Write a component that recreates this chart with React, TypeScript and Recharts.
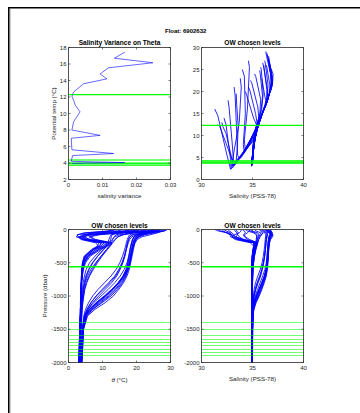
import React from 'react';
import { LineChart, Line, XAxis, YAxis, ReferenceLine } from 'recharts';

// ---------- data ----------
const PRESSURES = [0, 20, 50, 80, 110, 150, 200, 250, 300, 400, 500, 600, 700, 800, 900, 1000, 1100, 1200, 1300, 1500, 2000];

const THETA_PROFILES: number[][] = [
  [28.8, 28.4, 24.0, 21.5, 20.4, 19.8, 19.5, 19.3, 19.1, 18.7, 18.3, 17.9, 17.2, 16.2, 14.8, 13.2, 10.8, 7.8, 5.6, 4.4, 4.0],
  [27.5, 27.2, 22.5, 20.6, 19.9, 19.4, 19.1, 18.9, 18.7, 18.4, 18.0, 17.5, 16.6, 15.3, 13.7, 11.7, 9.2, 6.8, 5.1, 4.3, 3.8],
  [26.3, 26.0, 23.2, 21.4, 20.2, 19.5, 19.0, 18.7, 18.5, 18.1, 17.7, 17.1, 16.1, 14.6, 12.7, 10.5, 8.1, 6.1, 4.9, 4.2, 3.7],
  [29.1, 28.3, 25.5, 22.4, 20.8, 19.9, 19.4, 19.1, 18.9, 18.5, 18.1, 17.6, 16.9, 15.9, 14.4, 12.5, 9.9, 7.1, 5.3, 4.4, 3.9],
  [25.0, 24.8, 22.8, 20.5, 19.4, 18.9, 18.6, 18.3, 18.1, 17.7, 17.2, 16.4, 15.2, 13.6, 11.7, 9.6, 7.4, 5.7, 4.7, 4.1, 3.6],
  [28.3, 27.9, 26.2, 24.0, 21.6, 20.2, 19.6, 19.2, 18.9, 18.4, 18.0, 17.4, 16.4, 14.9, 13.0, 10.9, 8.5, 6.3, 4.9, 4.3, 3.8],
  [27.0, 26.8, 24.5, 22.0, 20.5, 19.7, 19.3, 19.0, 18.8, 18.4, 18.0, 17.5, 16.8, 15.6, 14.0, 12.0, 9.6, 7.2, 5.4, 4.4, 3.9],
  [26.0, 25.6, 21.5, 19.8, 19.2, 18.8, 18.5, 18.3, 18.1, 17.8, 17.4, 16.9, 16.0, 14.6, 12.9, 10.8, 8.4, 6.3, 4.9, 4.2, 3.7],
  [28.0, 27.5, 23.8, 21.0, 19.9, 19.3, 19.0, 18.8, 18.6, 18.3, 17.9, 17.3, 16.3, 14.8, 12.9, 10.7, 8.3, 6.1, 4.8, 4.2, 3.7],
  [24.5, 24.2, 21.8, 20.0, 19.3, 18.9, 18.6, 18.4, 18.2, 17.9, 17.5, 17.0, 16.2, 14.9, 13.2, 11.2, 8.8, 6.6, 5.0, 4.3, 3.8],
  [27.0, 26.5, 21.5, 19.0, 18.0, 17.6, 17.3, 17.1, 16.9, 16.4, 15.7, 14.8, 13.6, 11.8, 9.9, 8.1, 6.6, 5.5, 4.8, 4.2, 3.7],
  [25.5, 25.0, 19.5, 16.0, 14.5, 13.6, 12.8, 12.0, 11.2, 9.6, 8.2, 7.0, 6.0, 5.2, 4.7, 4.4, 4.2, 4.0, 3.9, 3.7, 3.4],
  [24.0, 23.4, 18.2, 15.0, 13.6, 12.8, 12.0, 11.2, 10.3, 8.6, 7.2, 6.1, 5.3, 4.8, 4.4, 4.2, 4.0, 3.9, 3.8, 3.6, 3.4],
  [26.5, 26.0, 22.4, 20.0, 18.6, 18.0, 17.6, 17.3, 17.0, 16.5, 15.9, 15.0, 13.9, 12.2, 10.2, 8.2, 6.6, 5.4, 4.7, 4.2, 3.7],
  [22.5, 22.0, 16.5, 14.0, 13.4, 13.0, 12.6, 12.0, 11.2, 9.6, 8.0, 6.6, 5.6, 4.9, 4.5, 4.2, 4.0, 3.9, 3.8, 3.6, 3.4],
  [23.0, 22.4, 19.0, 18.0, 17.6, 17.3, 17.0, 16.8, 16.5, 15.9, 15.1, 14.0, 12.5, 10.6, 8.7, 7.1, 5.9, 5.0, 4.5, 4.0, 3.6],
  [26.0, 25.2, 20.5, 18.6, 18.0, 17.7, 17.4, 17.2, 17.0, 16.6, 16.0, 15.2, 14.2, 12.7, 10.8, 8.9, 7.1, 5.8, 4.9, 4.3, 3.8],
  [21.0, 20.2, 15.0, 12.8, 12.6, 12.4, 12.0, 11.3, 10.4, 8.6, 7.0, 5.9, 5.1, 4.6, 4.3, 4.1, 3.9, 3.8, 3.7, 3.5, 3.3],
  [24.8, 24.0, 19.0, 16.0, 14.6, 13.8, 13.0, 12.3, 11.5, 9.9, 8.5, 7.3, 6.2, 5.4, 4.8, 4.5, 4.2, 4.0, 3.9, 3.7, 3.5],
  [20.0, 19.0, 14.0, 12.5, 12.2, 11.9, 11.5, 10.8, 9.8, 7.8, 6.2, 5.2, 4.7, 4.3, 4.1, 3.9, 3.8, 3.7, 3.6, 3.4, 3.2],
  [14.0, 12.5, 4.5, 2.5, 2.8, 5.0, 10.5, 9.5, 7.5, 5.0, 4.2, 4.0, 3.9, 3.8, 3.7, 3.6, 3.6, 3.5, 3.5, 3.3, 3.1],
  [18.0, 16.5, 8.5, 3.8, 3.5, 5.5, 11.0, 10.0, 8.0, 5.5, 4.5, 4.1, 3.9, 3.8, 3.7, 3.7, 3.6, 3.6, 3.5, 3.3, 3.1],
  [12.5, 12.0, 7.0, 4.5, 4.0, 6.5, 12.0, 10.8, 8.8, 5.8, 4.6, 4.2, 4.0, 3.8, 3.7, 3.7, 3.6, 3.6, 3.5, 3.4, 3.2],
  [21.0, 19.0, 10.5, 5.5, 4.8, 6.0, 11.5, 10.2, 8.2, 5.6, 4.6, 4.2, 4.0, 3.8, 3.7, 3.7, 3.6, 3.6, 3.5, 3.4, 3.2],
  [25.0, 23.5, 15.0, 8.0, 6.0, 7.5, 12.5, 11.0, 9.0, 6.0, 4.8, 4.3, 4.0, 3.9, 3.8, 3.7, 3.7, 3.6, 3.5, 3.4, 3.2],
  [16.0, 14.5, 5.5, 2.8, 2.3, 4.5, 10.0, 9.0, 7.0, 4.8, 4.1, 3.9, 3.8, 3.7, 3.7, 3.6, 3.6, 3.5, 3.5, 3.3, 3.0],
  [27.0, 25.5, 16.0, 9.0, 6.5, 8.0, 12.8, 11.5, 9.5, 6.4, 5.0, 4.4, 4.1, 3.9, 3.8, 3.7, 3.7, 3.6, 3.5, 3.4, 3.2],
  [13.0, 12.0, 10.5, 5.0, 3.2, 4.2, 9.0, 8.5, 6.8, 4.6, 4.1, 3.9, 3.8, 3.7, 3.6, 3.6, 3.5, 3.5, 3.4, 3.3, 3.0],
  [19.5, 17.0, 12.0, 7.0, 4.2, 5.0, 9.5, 9.2, 7.4, 5.2, 4.3, 4.0, 3.9, 3.8, 3.7, 3.6, 3.6, 3.5, 3.5, 3.4, 3.1],
  [23.0, 21.0, 13.0, 6.5, 3.0, 3.6, 8.0, 8.8, 7.2, 5.0, 4.2, 4.0, 3.9, 3.8, 3.7, 3.6, 3.6, 3.5, 3.5, 3.4, 3.1],
];

const SALINITY_PROFILES: number[][] = [
  [36.40, 36.45, 36.78, 36.85, 36.75, 36.68, 36.64, 36.62, 36.60, 36.56, 36.52, 36.46, 36.35, 36.16, 35.92, 35.66, 35.36, 35.14, 35.05, 35.02, 35.00],
  [36.55, 36.58, 36.86, 36.78, 36.70, 36.64, 36.60, 36.58, 36.56, 36.52, 36.47, 36.40, 36.24, 36.02, 35.77, 35.50, 35.24, 35.10, 35.04, 35.01, 34.98],
  [36.70, 36.72, 36.96, 36.92, 36.78, 36.66, 36.60, 36.56, 36.54, 36.50, 36.45, 36.35, 36.17, 35.90, 35.62, 35.36, 35.17, 35.07, 35.03, 35.00, 34.97],
  [36.30, 36.36, 36.62, 36.97, 36.86, 36.72, 36.64, 36.60, 36.58, 36.54, 36.49, 36.43, 36.30, 36.10, 35.87, 35.60, 35.31, 35.12, 35.04, 35.01, 34.98],
  [36.80, 36.82, 36.92, 36.74, 36.64, 36.58, 36.54, 36.50, 36.47, 36.42, 36.35, 36.22, 36.00, 35.75, 35.50, 35.27, 35.11, 35.05, 35.01, 34.99, 34.97],
  [36.45, 36.50, 36.64, 37.02, 36.96, 36.78, 36.68, 36.62, 36.58, 36.52, 36.46, 36.38, 36.22, 35.95, 35.67, 35.40, 35.19, 35.08, 35.03, 35.00, 34.97],
  [36.62, 36.65, 36.80, 36.90, 36.80, 36.70, 36.63, 36.59, 36.56, 36.52, 36.47, 36.40, 36.28, 36.06, 35.82, 35.54, 35.28, 35.12, 35.05, 35.01, 34.98],
  [36.35, 36.40, 36.70, 36.66, 36.60, 36.55, 36.52, 36.50, 36.48, 36.44, 36.39, 36.31, 36.15, 35.92, 35.66, 35.38, 35.18, 35.08, 35.03, 35.00, 34.97],
  [36.58, 36.62, 36.84, 36.80, 36.70, 36.63, 36.58, 36.56, 36.54, 36.50, 36.45, 36.36, 36.19, 35.93, 35.66, 35.38, 35.17, 35.07, 35.02, 35.00, 34.97],
  [36.75, 36.78, 36.88, 36.72, 36.64, 36.58, 36.54, 36.52, 36.50, 36.46, 36.41, 36.33, 36.18, 35.95, 35.70, 35.44, 35.21, 35.09, 35.03, 35.00, 34.97],
  [36.20, 36.25, 36.52, 36.45, 36.38, 36.34, 36.30, 36.28, 36.25, 36.17, 36.05, 35.90, 35.70, 35.45, 35.26, 35.13, 35.06, 35.03, 35.01, 34.99, 34.97],
  [35.80, 35.86, 36.05, 35.90, 35.74, 35.62, 35.52, 35.42, 35.32, 35.18, 35.10, 35.05, 35.02, 35.00, 34.99, 34.98, 34.98, 34.97, 34.97, 34.96, 34.95],
  [35.20, 35.32, 35.80, 35.72, 35.60, 35.50, 35.40, 35.32, 35.24, 35.12, 35.06, 35.02, 35.00, 34.99, 34.98, 34.97, 34.97, 34.96, 34.96, 34.96, 34.95],
  [36.00, 36.06, 36.32, 36.50, 36.44, 36.38, 36.34, 36.31, 36.27, 36.19, 36.08, 35.94, 35.75, 35.50, 35.29, 35.14, 35.06, 35.02, 35.00, 34.99, 34.97],
  [34.80, 34.92, 35.52, 35.62, 35.54, 35.48, 35.42, 35.36, 35.30, 35.18, 35.10, 35.05, 35.02, 35.00, 34.99, 34.98, 34.97, 34.97, 34.96, 34.96, 34.95],
  [35.90, 35.96, 36.20, 36.30, 36.28, 36.25, 36.22, 36.19, 36.15, 36.06, 35.94, 35.76, 35.52, 35.30, 35.16, 35.08, 35.04, 35.01, 35.00, 34.98, 34.96],
  [36.10, 36.15, 36.40, 36.40, 36.36, 36.33, 36.30, 36.28, 36.26, 36.20, 36.10, 35.97, 35.80, 35.56, 35.33, 35.18, 35.08, 35.04, 35.01, 34.99, 34.97],
  [34.60, 34.75, 35.30, 35.45, 35.44, 35.40, 35.36, 35.28, 35.21, 35.11, 35.05, 35.02, 35.00, 34.99, 34.98, 34.97, 34.97, 34.96, 34.96, 34.95, 34.94],
  [35.70, 35.76, 35.98, 35.85, 35.70, 35.60, 35.50, 35.42, 35.34, 35.20, 35.11, 35.06, 35.03, 35.01, 35.00, 34.99, 34.98, 34.97, 34.97, 34.96, 34.95],
  [34.30, 34.45, 35.10, 35.38, 35.40, 35.36, 35.32, 35.24, 35.16, 35.07, 35.02, 35.00, 34.99, 34.98, 34.97, 34.96, 34.96, 34.95, 34.95, 34.94, 34.93],
  [32.20, 32.40, 32.85, 32.90, 33.10, 33.80, 35.25, 35.20, 35.10, 34.98, 34.95, 34.94, 34.94, 34.93, 34.93, 34.93, 34.93, 34.92, 34.92, 34.92, 34.91],
  [32.60, 32.70, 33.00, 33.15, 33.35, 33.90, 35.30, 35.26, 35.14, 35.00, 34.96, 34.95, 34.94, 34.94, 34.93, 34.93, 34.93, 34.92, 34.92, 34.92, 34.91],
  [31.60, 31.80, 32.60, 33.00, 33.30, 34.20, 35.45, 35.32, 35.18, 35.02, 34.97, 34.95, 34.94, 34.94, 34.93, 34.93, 34.93, 34.92, 34.92, 34.92, 34.91],
  [33.20, 33.30, 33.45, 33.55, 33.70, 34.10, 35.38, 35.28, 35.16, 35.01, 34.97, 34.95, 34.94, 34.94, 34.93, 34.93, 34.93, 34.92, 34.92, 34.92, 34.91],
  [34.00, 34.20, 34.30, 34.10, 34.20, 34.50, 35.48, 35.34, 35.20, 35.03, 34.98, 34.96, 34.95, 34.94, 34.94, 34.93, 34.93, 34.93, 34.92, 34.92, 34.91],
  [31.30, 31.60, 32.50, 32.80, 32.85, 33.60, 35.20, 35.14, 35.06, 34.97, 34.95, 34.94, 34.93, 34.93, 34.93, 34.93, 34.92, 34.92, 34.92, 34.91, 34.91],
  [34.60, 34.70, 34.50, 34.20, 34.30, 34.70, 35.52, 35.38, 35.24, 35.05, 34.99, 34.96, 34.95, 34.94, 34.94, 34.93, 34.93, 34.93, 34.92, 34.92, 34.91],
  [32.00, 32.10, 32.40, 32.95, 33.05, 33.50, 35.10, 35.10, 35.04, 34.96, 34.94, 34.94, 34.93, 34.93, 34.93, 34.92, 34.92, 34.92, 34.92, 34.91, 34.91],
  [33.40, 33.45, 33.60, 33.50, 33.40, 33.90, 35.15, 35.16, 35.08, 34.99, 34.95, 34.94, 34.94, 34.93, 34.93, 34.93, 34.92, 34.92, 34.92, 34.91, 34.91],
  [33.80, 33.90, 33.70, 33.20, 32.95, 33.30, 34.80, 35.12, 35.06, 34.98, 34.95, 34.94, 34.93, 34.93, 34.93, 34.92, 34.92, 34.92, 34.92, 34.91, 34.91],
];

const VAR_THETA = [17.44, 16.7, 16.15, 15.54, 14.8, 14.2, 13.6, 12.6, 12.1, 11.6, 11.0, 10.2, 9.0, 8.0, 7.35, 7.0, 5.6, 5.15, 4.9, 4.2, 4.05, 4.0, 3.95];
const VAR_VALUES = [0.0166, 0.0135, 0.0248, 0.0118, 0.0093, 0.0113, 0.0044, 0.0015, 0.001, 0.0015, 0.002, 0.0034, 0.0015, 0.001, 0.0093, 0.0008, 0.001, 0.0133, 0.0012, 0.0008, 0.0165, 0.005, 0.001];

const CHOSEN_PRESSURES = [560, 1400, 1500, 1600, 1650, 1700, 1750, 1800, 1850, 1900];
const CHOSEN_THETAS = [12.28, 4.4, 4.25, 4.1, 4.0, 3.95, 3.88, 3.8, 3.72, 3.65];

const VAR_X_TICKS = [0, 0.01, 0.02, 0.03];
const VAR_Y_TICKS = [2, 4, 6, 8, 10, 12, 14, 16, 18];
const SAL_TICKS = [30, 35, 40];
const TS_Y_TICKS = [0, 5, 10, 15, 20, 25, 30];
const THETA_X_TICKS = [0, 10, 20, 30];
const PRES_TICKS = [-2000, -1500, -1000, -500, 0];

// ---------- styling ----------
const FONT = '"Liberation Sans", Arial, Helvetica, sans-serif';
const AX = '#262626';
const BLUE = '#0000ff';
const GREEN = '#00ff00';

type Box = { x0: number; y0: number; x1: number; y1: number };

const TL: Box = { x0: 68.5, y0: 47.5, x1: 170.5, y1: 179.5 };
const TR: Box = { x0: 201.5, y0: 47.5, x1: 303.5, y1: 179.5 };
const BL: Box = { x0: 68.5, y0: 229.5, x1: 170.5, y1: 362.5 };
const BR: Box = { x0: 201.5, y0: 229.5, x1: 303.5, y1: 362.5 };

const empty = () => <g />;

function Panel(props: {
  box: Box;
  xDomain: [number, number];
  xTicks: number[];
  yDomain: [number, number];
  yTicks: number[];
  children: React.ReactNode;
}) {
  const { box, xDomain, xTicks, yDomain, yTicks, children } = props;
  const YW = 40, XH = 30, TH = 1, RW = 1;
  const cl = Math.floor(box.x0) - YW;
  const ml = box.x0 - YW - cl;
  const W = Math.ceil(box.x1 + RW + 12 - cl);
  const mr = W - (box.x1 + RW - cl);
  const ct = Math.floor(box.y0) - TH - 3;
  const mt = box.y0 - TH - ct;
  const H = Math.ceil(box.y1 + XH - ct);
  const mb = H - (box.y1 + XH - ct);
  const axisLine = { stroke: AX, strokeWidth: 0.8 };
  const tickLine = { stroke: AX, strokeWidth: 0.6 };
  const tick = { fontSize: 6, fill: AX, fontFamily: FONT };
  return (
    <div style={{ position: 'absolute', left: cl, top: ct }}>
      <LineChart width={W} height={H} margin={{ top: mt, right: mr, bottom: mb, left: ml }}>
        <XAxis xAxisId={0} type="number" dataKey="x" orientation="bottom" domain={xDomain} ticks={xTicks}
          allowDataOverflow interval={0} height={XH} tickSize={-2} tickMargin={5}
          axisLine={axisLine} tickLine={tickLine} tick={tick} />
        <XAxis xAxisId="top" type="number" dataKey="x" orientation="top" domain={xDomain} ticks={xTicks}
          allowDataOverflow interval={0} height={TH} tickSize={-2}
          axisLine={axisLine} tickLine={tickLine} tick={empty} />
        <YAxis yAxisId={0} type="number" orientation="left" domain={yDomain} ticks={yTicks}
          allowDataOverflow interval={0} width={YW} tickSize={-2} tickMargin={4}
          axisLine={axisLine} tickLine={tickLine} tick={tick} />
        <YAxis yAxisId="right" type="number" orientation="right" domain={yDomain} ticks={yTicks}
          allowDataOverflow interval={0} width={RW} tickSize={-2}
          axisLine={axisLine} tickLine={tickLine} tick={empty} />
        {children}
      </LineChart>
    </div>
  );
}

const profileLines = (xs: number[][], ys: number[][], key: string) =>
  xs.map((xp, i) => (
    <Line key={key + i} data={xp.map((v, j) => ({ x: v, y: ys[i][j] }))} dataKey="y" type="linear"
      stroke={BLUE} strokeWidth={0.85} dot={false} activeDot={false} isAnimationActive={false} />
  ));

const negPressure = THETA_PROFILES.map(() => PRESSURES.map((p) => -p));

const greenLines = (vals: number[], key: string) =>
  vals.map((v, i) => (
    <ReferenceLine key={key + i} y={v} stroke={GREEN}
      strokeWidth={i === 0 ? 1.3 : 1}
      shapeRendering={i === 0 ? 'auto' : 'crispEdges'}
      strokeOpacity={i === 0 ? 1 : 0.55} ifOverflow="visible" />
  ));

export default function App() {
  const varData = VAR_THETA.map((t, i) => ({ x: VAR_VALUES[i], y: t }));
  const txt = { fontFamily: FONT, fill: AX, fontSize: 6.2 } as const;
  const ttl = { fontFamily: FONT, fill: '#000', fontSize: 6.6, fontWeight: 700 } as const;
  return (
    <div style={{ position: 'fixed', left: 0, top: 0, width: 360, height: 413, background: '#fff', overflow: 'hidden' }}>
      <svg width={360} height={413} style={{ position: 'absolute', left: 0, top: 0 }}>
        <rect x={8} y={7} width={352} height={1.5} fill="#000" />
        <rect x={8} y={7} width={1.6} height={406} fill="#000" />
        <rect x={9.6} y={8.5} width={0.8} height={405} fill="#888" />
        <text x={185.7} y={31} textAnchor="middle" dominantBaseline="central" {...ttl} fontSize={6}>Float: 6902632</text>
        <text x={119.5} y={42.3} textAnchor="middle" dominantBaseline="central" {...ttl}>Salinity Variance on Theta</text>
        <text x={252.5} y={42.3} textAnchor="middle" dominantBaseline="central" {...ttl}>OW chosen levels</text>
        <text x={119.5} y={225.3} textAnchor="middle" dominantBaseline="central" {...ttl}>OW chosen levels</text>
        <text x={252.5} y={225.3} textAnchor="middle" dominantBaseline="central" {...ttl}>OW chosen levels</text>
        <text x={119.5} y={195} textAnchor="middle" dominantBaseline="central" {...txt}>salinity variance</text>
        <text x={252.5} y={195} textAnchor="middle" dominantBaseline="central" {...txt}>Salinity (PSS-78)</text>
        <text x={119.5} y={379} textAnchor="middle" dominantBaseline="central" {...txt}>
          <tspan fontStyle="italic">θ</tspan> (°C)
        </text>
        <text x={252.5} y={378} textAnchor="middle" dominantBaseline="central" {...txt}>Salinity (PSS-78)</text>
        <text transform="translate(53.3,113.5) rotate(-90)" textAnchor="middle" dominantBaseline="central" {...txt}>Potential temp (°C)</text>
        <text transform="translate(44.3,296) rotate(-90)" textAnchor="middle" dominantBaseline="central" {...txt}>Pressure (dbar)</text>
      </svg>

      <Panel box={TL} xDomain={[0, 0.03]} xTicks={VAR_X_TICKS} yDomain={[2, 18]} yTicks={VAR_Y_TICKS}>
        {greenLines(CHOSEN_THETAS, 'tl')}
        <Line data={varData} dataKey="y" type="linear" stroke={BLUE} strokeWidth={0.6} dot={false}
          activeDot={false} isAnimationActive={false} />
      </Panel>

      <Panel box={TR} xDomain={[30, 40]} xTicks={SAL_TICKS} yDomain={[0, 30]} yTicks={TS_Y_TICKS}>
        {profileLines(SALINITY_PROFILES, THETA_PROFILES, 'ts')}
        {greenLines(CHOSEN_THETAS, 'tr')}
      </Panel>

      <Panel box={BL} xDomain={[0, 30]} xTicks={THETA_X_TICKS} yDomain={[-2000, 0]} yTicks={PRES_TICKS}>
        {profileLines(THETA_PROFILES, negPressure, 'tp')}
        {greenLines(CHOSEN_PRESSURES.map((p) => -p), 'bl')}
      </Panel>

      <Panel box={BR} xDomain={[30, 40]} xTicks={SAL_TICKS} yDomain={[-2000, 0]} yTicks={PRES_TICKS}>
        {profileLines(SALINITY_PROFILES, negPressure, 'sp')}
        {greenLines(CHOSEN_PRESSURES.map((p) => -p), 'br')}
      </Panel>
    </div>
  );
}
